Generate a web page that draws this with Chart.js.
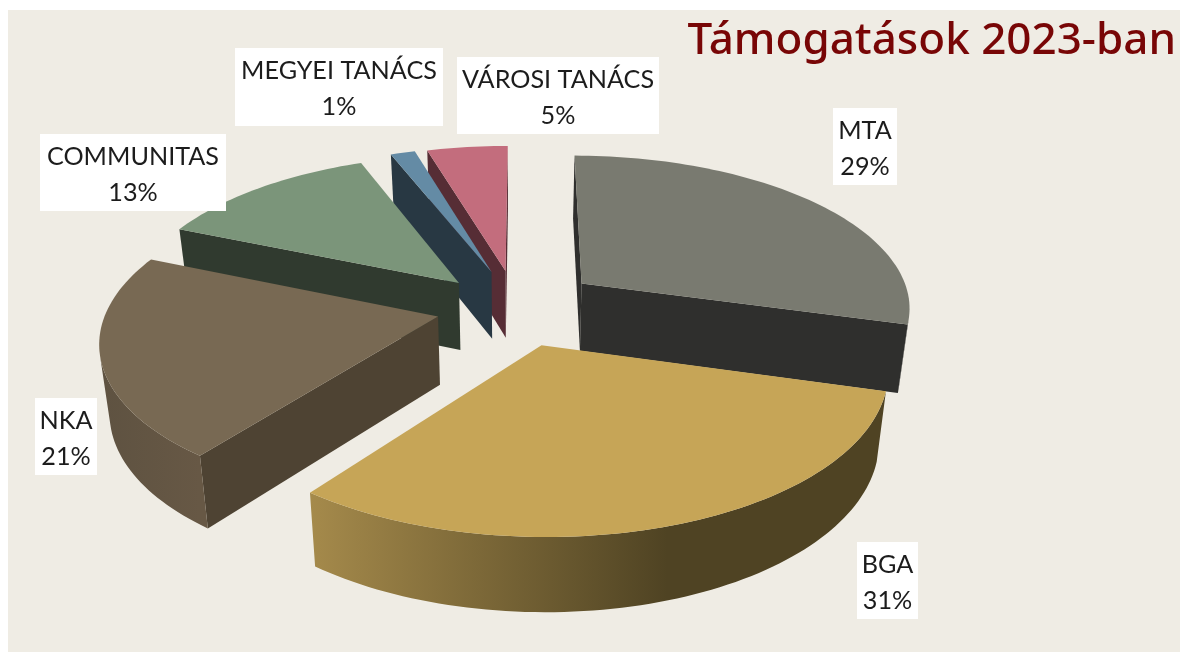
<!DOCTYPE html>
<html lang="hu">
<head>
<meta charset="utf-8">
<title>Támogatások 2023-ban</title>
<style>
  html, body { margin: 0; padding: 0; background: #fff; }
  #wrap { width: 1180px; height: 652px; }
</style>
</head>
<body>
<div id="wrap"><canvas id="grafico" width="1180" height="652"></canvas></div>
<script src="https://cdn.jsdelivr.net/npm/chart.js@4"></script>
<script>
// ===== Dados =====
const categories = ['MTA', 'BGA', 'NKA', 'COMMUNITAS', 'MEGYEI TANÁCS', 'VÁROSI TANÁCS'];
const shares = [29.3, 31, 21, 12.7, 1.4, 4.6]; // o rótulo mostra arredondado

// ===== Estilo =====
const topColors = ['#797a70', '#c6a557', '#786953', '#7b957a', '#648ba5', '#c36d7d'];
const faceColors = ['#2f2f2d', '#4f4323', '#4e4333', '#303a2f', '#283843', '#562d35'];
const wallLeft = ['#2f2f2d', '#a58a4b', '#5e5241', '#303a2f', '#283843', '#562d35'];
const wallRight = ['#2f2f2d', '#4f4323', '#675845', '#303a2f', '#283843', '#562d35'];
const sliceOffsets = [82, 88, 81, 76, 78, 77];
const offsetTurn = [0.03, 0.04, -0.05, -0.1, 0, 0]; // desvio da direção da explosão, em radianos
const paintOrder = [5, 4, 3, 0, 2, 1];
// caixas brancas dos rótulos: x, y, largura, altura
const labelBoxes = [
  [833, 108, 64, 77],
  [857, 542, 61, 77],
  [35, 398, 62, 77],
  [40, 134, 186, 77],
  [235, 48, 208, 78],
  [457, 57, 202, 77]
];

// ===== Projeção em perspectiva do plano da pizza =====
const view = { cx: 516, cy: 305, tilt: 0.46, persp: 0.00043, shrink: 0.975, depthBase: 58, depthGrow: 0.032 };

function project(x, y) {
  const f = 1 / (1 - view.persp * y);
  return { x: view.cx + x * f, y: view.cy + view.tilt * y * f };
}

function lower(p) {
  return {
    x: view.cx + (p.x - view.cx) * view.shrink,
    y: p.y + view.depthBase + view.depthGrow * p.y
  };
}

function outline(arc, i) {
  const off = arc.options.offset;
  const mid = (arc.startAngle + arc.endAngle) / 2 + offsetTurn[i];
  const ox = Math.cos(mid) * off;
  const oy = Math.sin(mid) * off;
  const pts = [project(ox, oy)];
  const steps = Math.max(2, Math.ceil((arc.endAngle - arc.startAngle) / 0.025));
  for (let k = 0; k <= steps; k++) {
    const a = arc.startAngle + (arc.endAngle - arc.startAngle) * k / steps;
    pts.push(project(ox + Math.cos(a) * arc.outerRadius, oy + Math.sin(a) * arc.outerRadius));
  }
  return pts;
}

function fillPolygon(ctx, pts, color) {
  ctx.fillStyle = color;
  ctx.beginPath();
  pts.forEach((p, k) => (k ? ctx.lineTo(p.x, p.y) : ctx.moveTo(p.x, p.y)));
  ctx.closePath();
  ctx.fill();
}

function frontFacing(p, q) {
  const lp = lower(p);
  return (q.x - p.x) * (lp.y - p.y) - (q.y - p.y) * (lp.x - p.x) < 0;
}

function drawSlice(ctx, arc, i) {
  const pts = outline(arc, i);
  const apex = pts[0];
  const rim = pts.slice(1);
  const xs = rim.map(p => p.x);
  const wall = ctx.createLinearGradient(Math.min(...xs), 0, Math.max(...xs), 0);
  wall.addColorStop(0, wallLeft[i]);
  wall.addColorStop(i === 1 ? 0.62 : 1, wallRight[i]);
  wall.addColorStop(1, wallRight[i]);

  // Faces radiais
  [[apex, rim[0]], [rim[rim.length - 1], apex]].forEach(([p, q]) => {
    if (frontFacing(p, q)) fillPolygon(ctx, [p, q, lower(q), lower(p)], faceColors[i]);
  });

  // Parede externa, um polígono só para cada trecho visível
  let run = [];
  const flush = () => {
    if (run.length > 1) fillPolygon(ctx, run.concat(run.map(lower).reverse()), wall);
    run = [];
  };
  for (let k = 0; k < rim.length - 1; k++) {
    if (frontFacing(rim[k], rim[k + 1])) {
      if (!run.length) run.push(rim[k]);
      run.push(rim[k + 1]);
    } else {
      flush();
    }
  }
  flush();

  fillPolygon(ctx, pts, topColors[i]);
}

const pie3d = {
  id: 'pie3d',
  beforeDraw(chart) {
    const ctx = chart.ctx;
    ctx.save();
    ctx.fillStyle = '#efece4';
    ctx.fillRect(8, 10, chart.width - 8, chart.height - 10);
    ctx.restore();
  },
  beforeDatasetsDraw(chart) {
    const ctx = chart.ctx;
    const arcs = chart.getDatasetMeta(0).data;
    ctx.save();
    paintOrder.forEach(i => drawSlice(ctx, arcs[i], i));
    ctx.restore();
    return false;
  },
  afterDraw(chart) {
    const ctx = chart.ctx;
    ctx.save();
    ctx.font = '25.2px Lato';
    ctx.textAlign = 'center';
    ctx.textBaseline = 'alphabetic';
    labelBoxes.forEach((box, i) => {
      ctx.fillStyle = '#fff';
      ctx.fillRect(box[0], box[1], box[2], box[3]);
      ctx.fillStyle = '#1c1c1c';
      const mid = box[0] + box[2] / 2;
      ctx.fillText(categories[i], mid, box[1] + 31);
      ctx.fillText(Math.round(shares[i]) + '%', mid, box[1] + 67);
    });
    ctx.restore();
  }
};

new Chart(document.getElementById('grafico').getContext('2d'), {
  type: 'pie',
  data: {
    labels: categories,
    datasets: [{
      data: shares,
      backgroundColor: topColors,
      offset: sliceOffsets,
      borderWidth: 0
    }]
  },
  options: {
    responsive: false,
    animation: false,
    radius: 330,
    rotation: 0.2,
    layout: { padding: { right: 4 } },
    plugins: {
      legend: { display: false },
      tooltip: { enabled: false },
      title: {
        display: true,
        text: 'Támogatások 2023-ban',
        align: 'end',
        color: '#780606',
        font: { family: '"Noto Sans"', size: 44, weight: '500' },
        padding: { top: 15, bottom: 0 }
      }
    }
  },
  plugins: [pie3d]
});
</script>
</body>
</html>
